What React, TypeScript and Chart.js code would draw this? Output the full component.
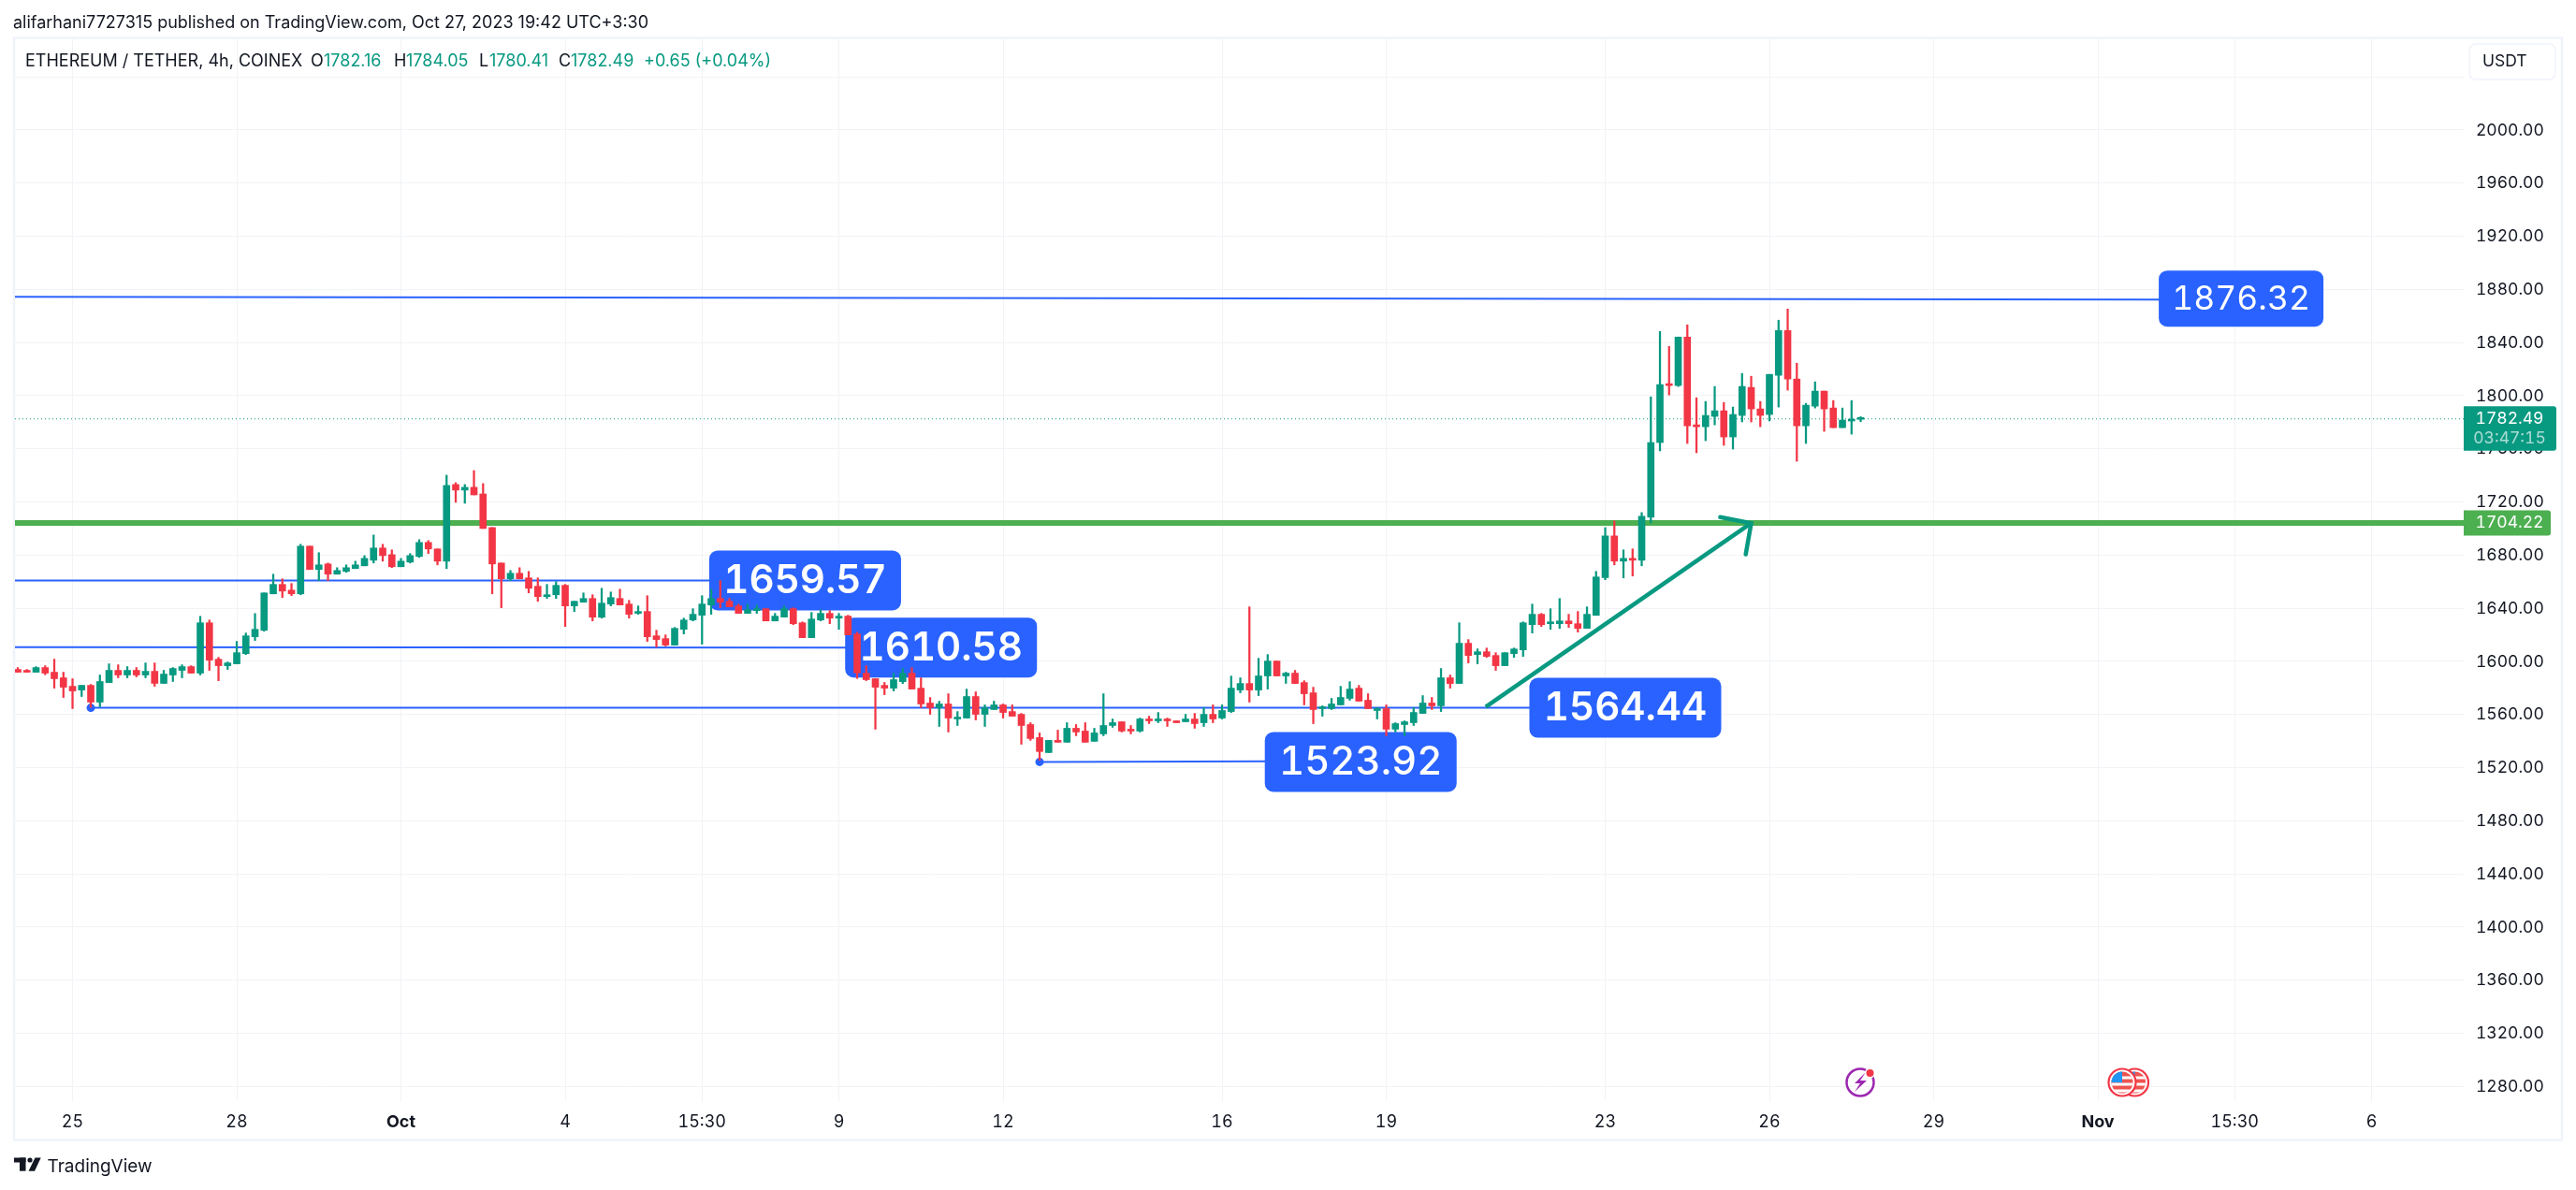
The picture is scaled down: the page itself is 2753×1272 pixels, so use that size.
import React, { useEffect, useRef } from "react";
import { Chart, registerables } from "chart.js";

Chart.register(...registerables);

const opens = [1593.9,1592.7,1591.8,1595.3,1591.8,1587.6,1581.2,1578.4,1581.9,1569.3,
1584,1593.2,1589.7,1593.2,1589.7,1592.5,1583.4,1589.7,1593.2,1596,
1591.1,1629,1601.6,1596.7,1598.1,1605.8,1618.5,1623.4,1650.8,1657.9,
1653.6,1650.8,1686.7,1669.1,1673.3,1665.6,1667.7,1669.8,1671.9,1676.1,
1685.3,1680.3,1671.2,1674.7,1678.9,1689.5,1684.6,1675.4,1733.1,1728.9,
1731,1726,1700.7,1674,1662.1,1666.3,1662.8,1656.5,1648.7,1650.1,
1657.2,1641.7,1644.5,1647.3,1633.2,1643.1,1647.3,1643.1,1636.1,1637.5,
1619.2,1617.1,1612.2,1624.1,1631.1,1634.7,1642.4,1647.3,1645.2,1641.7,
1636.1,1638.2,1639.6,1630.4,1633.3,1639.6,1629,1617.8,1631.1,1636.1,
1632.5,1634,1620.6,1591.1,1586.9,1581.9,1579.8,1584.7,1591.1,1579.8,
1568.6,1565.1,1567.9,1556.6,1557.3,1573.5,1560.1,1563.7,1567.2,1562.2,
1560.1,1552.4,1542.6,1531.3,1540.5,1539.1,1549.6,1547.5,1539.8,1545.4,
1551.7,1554.5,1548.2,1547.5,1556.6,1555.2,1555.9,1555.2,1554.5,1556.6,
1553.8,1560.1,1557.3,1562.2,1578.4,1583.3,1578.4,1589,1600.2,1589,
1591.1,1584,1576.3,1564.4,1564.4,1567.2,1572.1,1579.8,1570.7,1563,
1564.4,1548.9,1552.4,1553.8,1560.8,1568.6,1566.5,1587.6,1583.3,1613.6,
1605.1,1607.2,1604.4,1596.7,1605.8,1608.6,1627.6,1635.4,1628.3,1628.3,
1630.4,1628.3,1624.8,1634.6,1663,1694.4,1675.4,1677.5,1676.1,1708.5,
1764.7,1808.3,1807.6,1844.1,1778,1776.6,1784.4,1788.6,1768.9,1785.1,
1806.2,1790,1785.8,1815.3,1849,1812.5,1777.3,1792.1,1803.4,1790.7,
1775.9,1780.9,1782.16];

const highs = [1595.3,1593.9,1596,1596.7,1601.6,1591.8,1586.9,1581.9,1582.6,1589.7,
1598.1,1597.4,1596,1595.3,1598.8,1598.8,1593.2,1595.3,1597.4,1596.7,
1633.9,1631.1,1603,1599.5,1615,1621.3,1636,1651.5,1665.6,1662.1,
1658.6,1688.1,1686.7,1681.8,1674,1670.5,1672.6,1675.4,1679.6,1695.1,
1688.1,1683.9,1677.5,1681.1,1691.6,1690.9,1684.6,1740.1,1734.5,1733.1,
1743.6,1733.8,1700.7,1674,1668.4,1670.5,1667.7,1662.8,1657.9,1660,
1657.9,1645.2,1651.5,1650.1,1655,1652.2,1654.3,1645.9,1641.7,1649.4,
1623.4,1619.9,1625.5,1632.5,1639.6,1649.4,1654.3,1660.7,1647.3,1643.1,
1643.1,1642.4,1639.6,1636.1,1641.7,1640.3,1629.7,1636.8,1638.9,1638.2,
1636.1,1634.7,1622,1596.7,1586.9,1584.1,1591,1594.6,1595.3,1587.6,
1572.8,1570,1575.6,1562.2,1579.1,1577,1567.2,1570,1567.9,1567.2,
1560.8,1553.8,1546.1,1540.5,1548.2,1553.8,1552.4,1553.8,1549.6,1575.6,
1556.6,1554.5,1551.7,1557.3,1558.7,1561.5,1557.3,1555.2,1560.1,1560.8,
1565.1,1567.2,1567.2,1588.9,1587.6,1641,1602.3,1605.1,1600.2,1591.8,
1593.2,1585.4,1580.5,1566.5,1572.1,1581.2,1584.7,1581.9,1575.6,1565.1,
1567.2,1553.8,1555.2,1565.1,1574.2,1572.8,1594.6,1589.7,1629,1616.4,
1609.4,1610,1606.5,1606.5,1610,1629.7,1643.1,1636.1,1639.6,1647.3,
1635.4,1637.5,1641,1667.7,1700.7,1705.7,1683.9,1684.6,1712,1799.1,
1848.3,1837.1,1844.1,1853.3,1798.4,1795.6,1806.9,1794.9,1791.4,1816.7,
1814.6,1795.6,1816,1856.8,1865.2,1824.4,1794.2,1810.4,1803.4,1796.3,
1790.7,1796.3,1784.05];

const lows = [1591.8,1591.8,1591.8,1589.9,1579.8,1572.8,1564.4,1573.5,1565.3,1565.8,
1584,1587.6,1587.6,1588.3,1587.6,1581.2,1583.4,1584.8,1587.6,1591.1,
1589.7,1593.2,1585.4,1593.9,1598.1,1605.1,1615.7,1622.7,1650.8,1648,
1649.4,1650.1,1669.1,1660.7,1660.7,1665.6,1667,1669.8,1671.9,1674,
1675.4,1670.5,1671.2,1674,1678.2,1681.1,1672.6,1669.8,1719.7,1719,
1725.3,1700,1650.8,1640.3,1660.7,1662.1,1651.5,1645.2,1647.3,1647.3,
1626.2,1637.5,1644.5,1630.4,1632.5,1641.7,1642.4,1632.6,1635.4,1615,
1610.8,1611.5,1612.2,1620.6,1630.4,1612.9,1635.4,1640.3,1641,1636.1,
1636.1,1636.1,1630.4,1630.4,1633.3,1627.6,1617.8,1617.8,1630.4,1628.3,
1624.1,1619.9,1587.1,1585.5,1548.9,1574.9,1577.7,1583.3,1579.1,1565.1,
1560.1,1551,1546.8,1551.7,1557.3,1555.9,1551,1563.7,1557.3,1558.7,
1537.6,1540.5,1525.5,1531.3,1539.1,1539.1,1544,1539.1,1539.8,1544,
1550.3,1546.8,1545.4,1546.8,1553.1,1553.8,1551,1553.8,1554.5,1549.6,
1551,1553.8,1556.6,1561.5,1576.3,1569.3,1574.2,1579.1,1589,1583.4,
1583.3,1567.2,1553.1,1558.7,1563.7,1567.2,1570.7,1570,1564.4,1556.6,
1544,1546.8,1544,1551.7,1560.8,1563.7,1562.2,1579.8,1583.3,1598.8,
1598.1,1603,1593.2,1596.7,1603,1603.7,1621.3,1626.2,1624.1,1624.8,
1625.5,1622,1624.8,1634.6,1661.4,1672.6,1662.8,1664.2,1671.9,1704.2,
1758.4,1800.5,1806.9,1764,1757,1766.1,1778,1762.6,1759.8,1780.2,
1780.2,1776.6,1780.9,1791.4,1804.1,1750.6,1764,1790.7,1773.1,1775.9,
1775.9,1771,1780.41];

const closes = [1591.8,1591.8,1595.3,1591.1,1586.9,1580.5,1577.7,1581.9,1569.3,1584.8,
1593.2,1589.7,1593.2,1589.7,1592.5,1583.4,1590.4,1594.6,1596,1591.1,
1629,1600.9,1596.7,1598.8,1606.5,1619.2,1624.1,1651.5,1657.9,1652.9,
1650.8,1686.7,1669.1,1672.6,1665.6,1668.4,1670.5,1672.6,1677.5,1685.3,
1679.6,1671.2,1675.4,1679.6,1689.5,1684.6,1675.4,1732.4,1728.9,1731,
1725.3,1700,1673.3,1662.1,1666.3,1662.1,1655,1648.7,1650.1,1657.2,
1641.7,1645.2,1647.3,1633.2,1643.8,1648,1642.4,1635.4,1637.5,1618.5,
1616.4,1612.2,1624.8,1631.1,1635.4,1643.1,1647.3,1644.5,1641,1636.1,
1638.9,1638.9,1630.4,1634,1639.6,1628.3,1617.8,1631.8,1636.1,1632.5,
1634,1619.9,1591.3,1586.2,1580.5,1579.8,1586.2,1591.1,1579.1,1567.9,
1565.1,1567.9,1557.3,1558,1573.5,1560.1,1565.1,1567.2,1561.5,1558.7,
1551.7,1541.9,1532.1,1540.5,1539.1,1549.6,1546.8,1539.1,1546.1,1551.7,
1553.8,1547.5,1547.5,1556.6,1555.2,1555.9,1555.2,1553.8,1556.6,1553.1,
1560.1,1556.6,1563,1579.8,1583.3,1578.4,1589,1600.2,1589,1591.1,
1583.3,1575.6,1563.7,1565.1,1567.9,1572.8,1579.1,1570,1564.4,1564.4,
1548.9,1553.1,1554.5,1561.5,1568.6,1566.5,1587.6,1583.3,1613.6,1604.4,
1607.2,1603.7,1596.7,1606.5,1609.3,1629,1635.4,1627.6,1629.7,1630.4,
1628.3,1624.8,1635.4,1663.5,1694.4,1675.4,1677.5,1676.1,1709.2,1764.7,
1808.3,1807.6,1844.1,1777.3,1776.6,1785.1,1788.6,1768.9,1785.8,1806.9,
1790,1785.1,1816,1849,1812.5,1777.3,1792.8,1803.4,1790,1775.9,
1781.6,1782.3,1782.49];

const candleIndex = opens.map((_, i) => i);

const xTickIndex = [6, 24, 42, 60, 75, 90, 108, 132, 150, 174, 192, 210, 228, 243, 258];
const xTickText = ["25", "28", "Oct", "4", "15:30", "9", "12", "16", "19", "23", "26", "29", "Nov", "15:30", "6"];
const xBoldTicks = ["Oct", "Nov"];
const yTickValues = [1280,1320,1360,1400,1440,1480,1520,1560,1600,1640,1680,1720,1760,1800,1840,1880,1920,1960,2000,2040];

const resistanceTop = [{ x: -0.31, y: 1874.4 }, { x: 235, y: 1872.3 }];
const level1660 = [{ x: -0.31, y: 1660.9 }, { x: 76, y: 1660.9 }];
const level1610 = [{ x: -0.31, y: 1610.6 }, { x: 91, y: 1610.4 }];
const level1564 = [{ x: 8, y: 1565 }, { x: 166, y: 1565 }];
const level1524 = [{ x: 112, y: 1524.3 }, { x: 137, y: 1524.7 }];
const level1704 = [{ x: -0.31, y: 1704.22 }, { x: 268.1, y: 1704.22 }];
const lastPrice = [{ x: -0.31, y: 1782.49 }, { x: 268.1, y: 1782.49 }];
const arrowShaft = [{ x: 160.9, y: 1565.7 }, { x: 190, y: 1704 }];
const arrowHead = [{ x: 186.6, y: 1708.5 }, { x: 190, y: 1704 }, { x: 189.4, y: 1680.5 }];

const calloutText = ["1659.57", "1610.58", "1564.44", "1523.92", "1876.32"];
const calloutIndex = [86.3, 101.2, 176.2, 147.2, 243.7];
const calloutPrice = [1660.9, 1610.4, 1565, 1524.3, 1873];
const calloutWidth = [205, 205, 205, 205, 176];
const calloutHeight = [64, 64, 64, 64, 60];
const calloutFont = ["600 42px Inter", "600 42px Inter", "600 42px Inter", "500 42px Inter", "400 35.5px Inter"];

const headerTitle = "alifarhani7727315 published on TradingView.com, Oct 27, 2023 19:42 UTC+3:30";
const legendParts: [string, number, boolean][] = [
  ["ETHEREUM / TETHER, 4h, COINEX", 27, false],
  ["O", 332, false], ["1782.16", 346, true], ["H", 421, false], ["1784.05", 434, true],
  ["L", 512, false], ["1780.41", 523, true], ["C", 597, false], ["1782.49", 610, true],
  ["+0.65 (+0.04%)", 688, true],
];

const UP = "#089981";
const DOWN = "#F23645";
const BLUE = "#2962FF";
const GREEN = "#4CAF50";
const INK = "#131722";
const GRID = "#F2F3F6";
const FRAME = "#F0F3FA";

function roundRect(ctx: any, x: number, y: number, w: number, h: number, r: any) {
  ctx.beginPath();
  ctx.roundRect(x, y, w, h, r);
}

const drawingsPlugin = {
  id: "drawings",
  beforeDraw(chart: any) {
    const { ctx, width, height } = chart;
    ctx.save();
    ctx.fillStyle = "#FFFFFF";
    ctx.fillRect(0, 0, width, height);
    ctx.strokeStyle = FRAME;
    ctx.lineWidth = 2.5;
    ctx.strokeRect(15, 40.5, 2723, 1178);
    ctx.restore();
  },
  beforeDatasetsDraw(chart: any) {
    const { ctx, scales } = chart;
    ctx.save();
    calloutText.forEach((t, k) => {
      const cx = scales.x.getPixelForValue(calloutIndex[k]);
      const cy = scales.y.getPixelForValue(calloutPrice[k]);
      const w = calloutWidth[k];
      const h = calloutHeight[k];
      ctx.fillStyle = BLUE;
      roundRect(ctx, cx - w / 2, cy - h / 2, w, h, 9);
      ctx.fill();
      ctx.fillStyle = "#FFFFFF";
      ctx.font = calloutFont[k];
      ctx.textAlign = "center";
      ctx.textBaseline = "middle";
      ctx.fillText(t, cx, cy + 1);
    });
    ctx.restore();
  },
  afterDraw(chart: any) {
    const { ctx, scales } = chart;
    ctx.save();
    ctx.textBaseline = "middle";
    ctx.textAlign = "left";

    // Currency button
    ctx.fillStyle = "#FFFFFF";
    ctx.strokeStyle = FRAME;
    ctx.lineWidth = 1.5;
    roundRect(ctx, 2639, 47, 92, 38, 7);
    ctx.fill();
    ctx.stroke();
    ctx.fillStyle = INK;
    ctx.font = "400 17.5px Inter";
    ctx.fillText("USDT", 2653, 66);

    // Price-axis tags
    const tagY = scales.y.getPixelForValue(1782.49);
    ctx.fillStyle = UP;
    roundRect(ctx, 2633, tagY - 13.5, 99, 47.5, [0, 3, 3, 0]);
    ctx.fill();
    ctx.textAlign = "center";
    ctx.font = "400 17.5px Inter";
    ctx.fillStyle = "#FFFFFF";
    ctx.fillText("1782.49", 2682, tagY);
    ctx.fillStyle = "rgba(255,255,255,0.65)";
    ctx.fillText("03:47:15", 2682, tagY + 21);
    const gY = scales.y.getPixelForValue(1704.22);
    ctx.fillStyle = GREEN;
    roundRect(ctx, 2633, gY - 13.5, 93, 27, [0, 3, 3, 0]);
    ctx.fill();
    ctx.fillStyle = "#FFFFFF";
    ctx.fillText("1704.22", 2682, gY);

    // Event markers
    ctx.strokeStyle = "#9C27B0";
    ctx.lineWidth = 2.5;
    ctx.beginPath();
    ctx.arc(1988, 1157, 14.5, 0, Math.PI * 2);
    ctx.stroke();
    ctx.fillStyle = "#9C27B0";
    ctx.beginPath();
    ([[1994, 1146], [1982, 1158], [1988, 1158], [1982, 1167], [1995, 1155], [1988, 1155]] as number[][]).forEach(([x, y], i) =>
      i ? ctx.lineTo(x, y) : ctx.moveTo(x, y));
    ctx.closePath();
    ctx.fill();
    ctx.fillStyle = "#FFFFFF";
    ctx.beginPath();
    ctx.arc(1998.5, 1147, 5.5, 0, Math.PI * 2);
    ctx.fill();
    ctx.fillStyle = DOWN;
    ctx.beginPath();
    ctx.arc(1998.5, 1147, 4, 0, Math.PI * 2);
    ctx.fill();

    const flag = (cx: number, cy: number) => {
      ctx.fillStyle = "#FFFFFF";
      ctx.beginPath();
      ctx.arc(cx, cy, 15, 0, Math.PI * 2);
      ctx.fill();
      ctx.save();
      ctx.beginPath();
      ctx.arc(cx, cy, 11.5, 0, Math.PI * 2);
      ctx.clip();
      ctx.fillStyle = "#EF5350";
      ctx.fillRect(cx - 12, cy - 12, 24, 24);
      ctx.fillStyle = "#FFFFFF";
      [-7, 0, 7].forEach((d) => ctx.fillRect(cx - 12, cy + d - 1 + 1.5, 24, 3));
      ctx.fillStyle = "#2196F3";
      ctx.fillRect(cx - 12, cy - 12, 12, 12);
      ctx.restore();
      ctx.strokeStyle = DOWN;
      ctx.lineWidth = 2.2;
      ctx.beginPath();
      ctx.arc(cx, cy, 14.5, 0, Math.PI * 2);
      ctx.stroke();
    };
    flag(2281.5, 1157);
    flag(2268, 1157);

    // Footer brand
    ctx.fillStyle = INK;
    ctx.fillRect(15, 1237.5, 12.5, 5);
    ctx.fillRect(21, 1237.5, 6.5, 14.2);
    ctx.beginPath();
    ctx.arc(32, 1240, 2.6, 0, Math.PI * 2);
    ctx.fill();
    ctx.beginPath();
    ctx.moveTo(37.5, 1237.5);
    ctx.lineTo(43.7, 1237.5);
    ctx.lineTo(37, 1251.7);
    ctx.lineTo(30.5, 1251.7);
    ctx.closePath();
    ctx.fill();
    ctx.textAlign = "left";
    ctx.font = "400 19px Inter";
    ctx.fillStyle = INK;
    ctx.fillText("TradingView", 50.5, 1247);
    ctx.restore();
  },
};

function lineSet(data: any[], color: string, width: number, order: number, extra: any = {}) {
  return { type: "line", data, borderColor: color, backgroundColor: color, borderWidth: width, pointRadius: 0, order, ...extra };
}

const overlayText = (left: number, top: number, color: string): React.CSSProperties => ({
  position: "absolute",
  left,
  top,
  color,
  font: "400 18px/24px Inter",
  whiteSpace: "nowrap",
});

export default function App() {
  const ref = useRef<HTMLCanvasElement>(null);
  useEffect(() => {
    document.body.style.margin = "0";
    const colour = (i: number) => (closes[i] >= opens[i] ? UP : DOWN);
    const chart = new Chart(ref.current as any, {
      type: "bar",
      plugins: [drawingsPlugin],
      data: {
        datasets: [
          lineSet(level1704, GREEN, 6, 9),
          lineSet(lastPrice, UP, 1, 8, { borderDash: [1, 3] }),
          lineSet(resistanceTop, BLUE, 2, 7),
          lineSet(level1660, BLUE, 2, 7),
          lineSet(level1610, BLUE, 2, 7),
          lineSet(level1564, BLUE, 2, 7, { pointRadius: [3.5, 0] }),
          lineSet(level1524, BLUE, 2, 7, { pointRadius: [3.5, 0] }),
          lineSet(arrowShaft, UP, 4.5, 6),
          lineSet(arrowHead, UP, 4.5, 6, { borderCapStyle: "round" }),
          {
            label: "Wick",
            data: candleIndex.map((i) => ({ x: i, y: [lows[i], highs[i]] })),
            backgroundColor: (c: any) => colour(c.dataIndex),
            barThickness: 1.6,
            grouped: false,
            order: 2,
          },
          {
            label: "Body",
            data: candleIndex.map((i) => ({ x: i, y: [opens[i], closes[i]] })),
            backgroundColor: (c: any) => colour(c.dataIndex),
            barThickness: 7,
            minBarLength: 2,
            grouped: false,
            order: 1,
          },
        ] as any,
      },
      options: {
        animation: false,
        responsive: false,
        devicePixelRatio: 1,
        layout: { padding: { left: 16, top: 41, right: 0, bottom: 54 } },
        plugins: { legend: { display: false }, tooltip: { enabled: false }, title: { display: false } },
        events: [],
        scales: {
          x: {
            type: "linear",
            min: -0.31,
            max: 268.1,
            offset: false,
            grid: { color: GRID, offset: false, drawTicks: false, lineWidth: 1 },
            border: { display: false },
            afterBuildTicks: (axis: any) => {
              axis.ticks = xTickIndex.map((value) => ({ value }));
            },
            afterFit: (axis: any) => {
              axis.height = 41;
            },
            ticks: {
              autoSkip: false,
              maxRotation: 0,
              padding: 12,
              color: INK,
              font: (c: any) => {
                const t = xTickText[xTickIndex.indexOf(c.tick?.value)];
                return { family: "Inter", size: 18, weight: xBoldTicks.includes(t) ? 700 : 400 };
              },
              callback: (v: any) => xTickText[xTickIndex.indexOf(v)] ?? "",
            },
          },
          y: {
            type: "linear",
            position: "right",
            min: 1268.94,
            max: 2068.94,
            grid: { color: GRID, drawTicks: false, lineWidth: 1 },
            border: { display: false },
            afterBuildTicks: (axis: any) => {
              axis.ticks = yTickValues.map((value) => ({ value }));
            },
            afterFit: (axis: any) => {
              axis.width = 120;
            },
            ticks: {
              padding: 13,
              labelOffset: 0.5,
              color: INK,
              font: { family: "Inter", size: 17.5 },
              callback: (v: any) => (v === 2040 ? "" : Number(v).toFixed(2)),
            },
          },
        },
      } as any,
    });
    return () => chart.destroy();
  }, []);
  return (
    <>
      <canvas
        ref={ref}
        width={2753}
        height={1272}
        style={{ display: "block", position: "absolute", left: 0, top: 0, fontFeatureSettings: '"tnum"', fontVariantNumeric: "tabular-nums" }}
      />
      <div style={overlayText(14, 12, INK)}>{headerTitle}</div>
      {legendParts.map(([t, x, coloured]) => (
        <div key={t + x} style={overlayText(x, 53, coloured ? UP : INK)}>{t}</div>
      ))}
    </>
  );
}
